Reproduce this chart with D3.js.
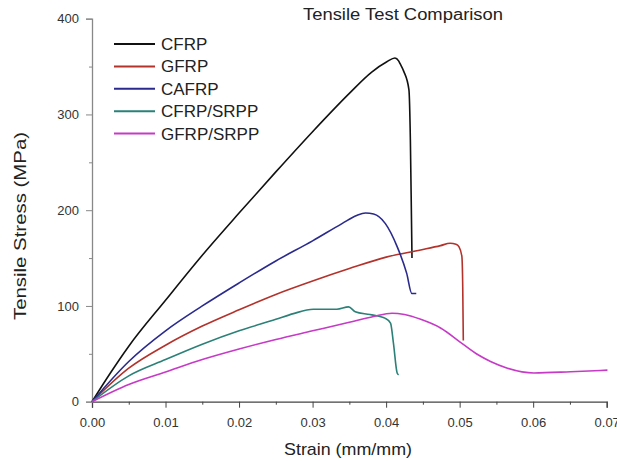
<!DOCTYPE html>
<html>
<head>
<meta charset="utf-8">
<script src="https://cdn.jsdelivr.net/npm/d3@7"></script>
<style>
  body { margin: 0; background: #fff; }
  svg { display: block; font-family: "Liberation Sans", Arial, sans-serif; }
</style>
</head>
<body>
<div id="chart"></div>
<script>
// Width and height of the page
var width = 617, height = 461;
var margin = {top: 18.7, right: 10.3, bottom: 59.3, left: 92};

// series: [strain (mm/mm), stress (MPa)]
var seriesNames = ["CFRP", "GFRP", "CAFRP", "CFRP/SRPP", "GFRP/SRPP"];
var seriesColors = ["#111111", "#b3322b", "#2a2a8e", "#2b8078", "#c63ac6"];

var cfrp = [[0,0],[0.0025,30],[0.005,58],[0.01,106],[0.015,153],[0.02,197],[0.025,240],[0.03,282],
  [0.035,322],[0.038,344],[0.0401,355],[0.0412,359],[0.0417,356],[0.0419,353],[0.0424,345],
  [0.0431,326],[0.0433,273],[0.04345,190],[0.04352,150]];
var gfrp = [[0,0],[0.005,35],[0.01,59],[0.015,79],[0.02,96],[0.025,112],[0.03,126],[0.035,139],
  [0.04,151],[0.0447,158.5],[0.0474,163],[0.0487,165.5],[0.0495,164.5],[0.0499,162],
  [0.0503,152],[0.05042,120],[0.0505,64]];
var cafrp = [[0,0],[0.005,42],[0.01,74],[0.015,100],[0.02,124],[0.025,147],[0.03,168],
  [0.034,186],[0.036,194.5],[0.0372,197],[0.0383,196],[0.0399,186],[0.0415,162],[0.0428,134],
  [0.0435,113],[0.0441,113]];
var cfrpSrpp = [[0,0],[0.005,27],[0.01,44],[0.015,60],[0.02,74],[0.025,86],[0.0274,92],
  [0.0301,96.5],[0.0333,96.5],[0.0349,99],[0.0358,94],[0.0378,91],[0.0399,87],[0.0406,82],
  [0.041,61],[0.0415,30],[0.0417,28]];
var gfrpSrpp = [[0,0],[0.005,18],[0.01,31],[0.015,44],[0.02,55],[0.025,65],[0.03,74],[0.035,83],
  [0.0383,89],[0.0408,92.4],[0.0425,91],[0.0447,86],[0.0474,77],[0.0503,61],[0.0525,49],
  [0.0542,42],[0.0565,35],[0.0601,30],[0.0651,31.3],[0.0701,33]];

var seriesData = [cfrp, gfrp, cafrp, cfrpSrpp, gfrpSrpp];

var xMajor = [0, 0.01, 0.02, 0.03, 0.04, 0.05, 0.06, 0.07];
var xMinor = [0.005, 0.015, 0.025, 0.035, 0.045, 0.055, 0.065];
var yMajor = [0, 100, 200, 300, 400];
var yMinor = [50, 150, 250, 350];

var svg = d3.select("#chart")
  .append("svg")
  .attr("width", width)
  .attr("height", height);

var x = d3.scaleLinear().domain([0, 0.07]).range([margin.left, width - margin.right]);
var y = d3.scaleLinear().domain([0, 400]).range([height - margin.bottom, margin.top]);

// minor ticks first so the major ones sit on top
svg.append("g")
  .attr("transform", "translate(0," + y(0) + ")")
  .call(d3.axisBottom(x).tickValues(xMinor).tickSize(3).tickFormat(""))
  .call(g => g.select(".domain").remove())
  .selectAll("line").attr("stroke", "#444");
svg.append("g")
  .attr("transform", "translate(" + x(0) + ",0)")
  .call(d3.axisLeft(y).tickValues(yMinor).tickSize(3).tickFormat(""))
  .call(g => g.select(".domain").remove())
  .selectAll("line").attr("stroke", "#888");

// x axis
var xAxis = svg.append("g")
  .attr("transform", "translate(0," + y(0) + ")")
  .call(d3.axisBottom(x).tickValues(xMajor).tickSize(6).tickPadding(10).tickFormat(d3.format(".2f")));
xAxis.select(".domain").attr("stroke", "#444").attr("stroke-width", 1.3);
xAxis.selectAll("line").attr("stroke", "#444");
xAxis.selectAll("text").attr("font-size", 13).attr("fill", "#333");

// y axis
var yAxis = svg.append("g")
  .attr("transform", "translate(" + x(0) + ",0)")
  .call(d3.axisLeft(y).tickValues(yMajor).tickSize(6).tickPadding(7));
yAxis.select(".domain").attr("stroke", "#888").attr("stroke-width", 1.3);
yAxis.selectAll("line").attr("stroke", "#888");
yAxis.selectAll("text").attr("font-size", 13).attr("fill", "#333");

// curves
var line = d3.line()
  .x(d => x(d[0]))
  .y(d => y(d[1]))
  .curve(d3.curveMonotoneX);

svg.selectAll(null)
  .data(seriesData)
  .enter()
  .append("path")
  .attr("d", line)
  .attr("fill", "none")
  .attr("stroke", (d, i) => seriesColors[i])
  .attr("stroke-width", 1.6)
  .attr("stroke-linejoin", "round");

// legend
var legend = svg.append("g").attr("transform", "translate(114,44)");
var item = legend.selectAll(null)
  .data(seriesNames)
  .enter()
  .append("g")
  .attr("transform", (d, i) => "translate(0," + i * 22.4 + ")");
item.append("line")
  .attr("x1", 0).attr("x2", 41)
  .attr("stroke", (d, i) => seriesColors[i])
  .attr("stroke-width", 2);
item.append("text")
  .attr("x", 47).attr("y", 6)
  .attr("font-size", 17)
  .attr("fill", "#222")
  .text(d => d);

// titles
svg.append("text")
  .attr("x", 303).attr("y", 20)
  .attr("font-size", 16)
  .attr("textLength", 200).attr("lengthAdjust", "spacingAndGlyphs")
  .attr("fill", "#222")
  .text("Tensile Test Comparison");

svg.append("text")
  .attr("x", 348).attr("y", 455)
  .attr("text-anchor", "middle")
  .attr("font-size", 17)
  .attr("textLength", 128).attr("lengthAdjust", "spacingAndGlyphs")
  .attr("fill", "#222")
  .text("Strain (mm/mm)");

svg.append("text")
  .attr("transform", "translate(26,226) rotate(-90)")
  .attr("text-anchor", "middle")
  .attr("font-size", 16)
  .attr("textLength", 188).attr("lengthAdjust", "spacingAndGlyphs")
  .attr("fill", "#222")
  .text("Tensile Stress (MPa)");
</script>
</body>
</html>
